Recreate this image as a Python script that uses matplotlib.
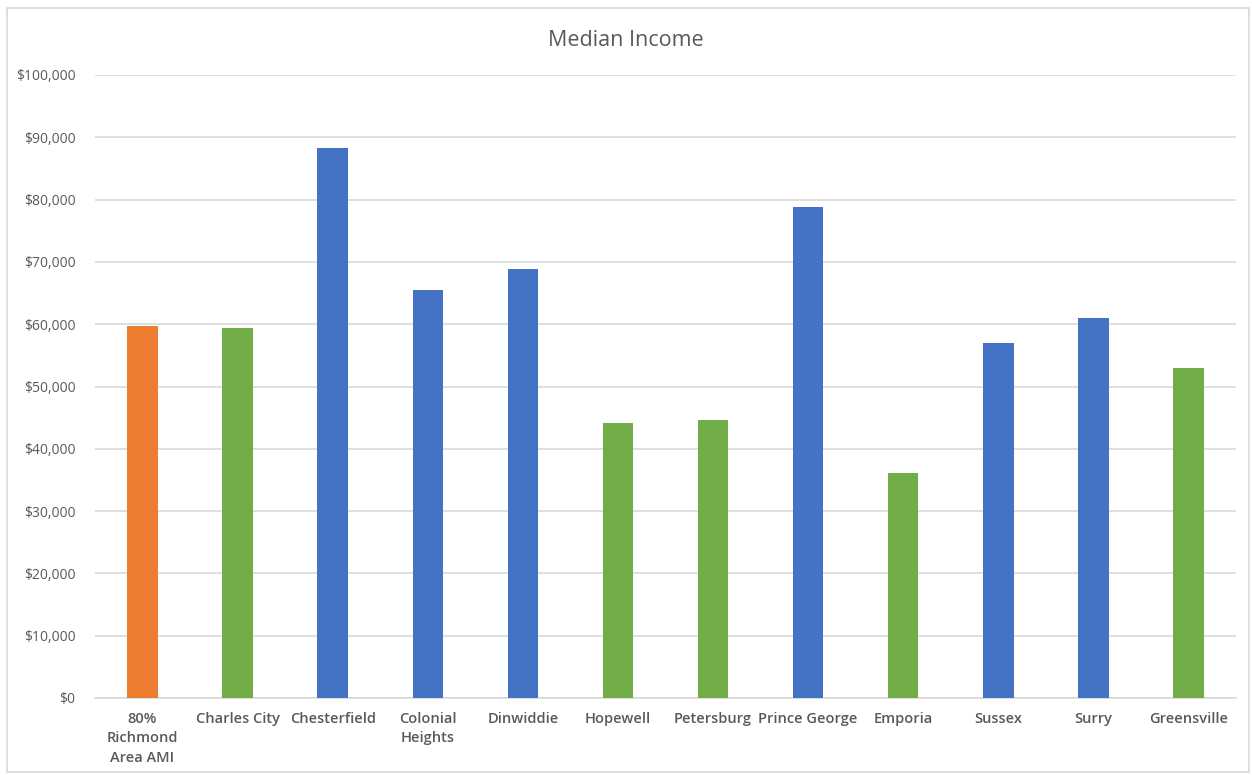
import matplotlib.pyplot as plt
from matplotlib.ticker import FuncFormatter
from matplotlib.patches import Rectangle

plt.rcParams['font.family'] = ['Open Sans', 'DejaVu Sans']

places = ["80%\nRichmond\nArea AMI", "Charles City", "Chesterfield", "Colonial\nHeights",
          "Dinwiddie", "Hopewell", "Petersburg", "Prince George", "Emporia",
          "Sussex", "Surry", "Greensville"]
median_income = [59700, 59400, 88300, 65500, 68850, 44130, 44700, 78850,
                 36100, 56980, 61000, 52970]
# colour groups as shown in the chart
groups = ["ami", "green", "blue", "blue", "blue", "green", "green", "blue",
          "green", "blue", "blue", "green"]

group_colors = {"ami": "#ED7D31", "green": "#70AD47", "blue": "#4472C4"}
text_color = "#595959"

fig = plt.figure(figsize=(12.52, 7.75), dpi=100)
ax = fig.add_axes([95 / 1252, 1 - 698 / 775, 1141 / 1252, 623 / 775])

# light border around the whole chart, like the spreadsheet chart frame
fig.patches.append(Rectangle((7 / 1252, 3 / 775), 1242 / 1252, 764 / 775,
                             transform=fig.transFigure, fill=False,
                             edgecolor="#D9D9D9", linewidth=1.2))

x = range(len(places))
ax.bar(x, median_income, width=0.32,
       color=[group_colors[g] for g in groups], zorder=3)

ax.set_xlim(-0.5, len(places) - 0.5)
ax.set_ylim(0, 100000)
ax.set_yticks(range(0, 100001, 10000))
ax.yaxis.set_major_formatter(FuncFormatter(lambda v, p: "${:,.0f}".format(v)))
ax.set_xticks(list(x))
ax.set_xticklabels(places, fontweight="semibold", fontsize=10.5, color=text_color,
                   linespacing=1.5)
ax.tick_params(axis="y", labelsize=10, labelcolor=text_color, length=0, pad=14)
ax.tick_params(axis="x", length=0, pad=10)

ax.grid(axis="y", color="#D9D9D9", linewidth=1.2, zorder=0)
for side in ["top", "right", "left"]:
    ax.spines[side].set_visible(False)
ax.spines["bottom"].set_color("#D9D9D9")
ax.spines["bottom"].set_linewidth(1.2)

fig.text(0.5, 1 - 40 / 775, "Median Income", ha="center", va="center",
         fontsize=15.5, color=text_color)

plt.savefig("out.png", dpi=100)
